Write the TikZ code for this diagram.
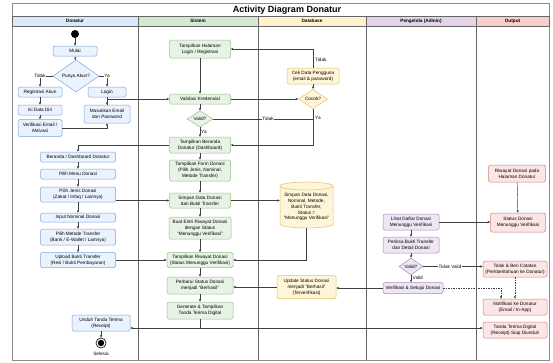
\documentclass[tikz,border=0pt]{standalone}
\usepackage{fontspec}
\setmainfont{Liberation Sans}
\usetikzlibrary{shapes.geometric,arrows.meta}
\definecolor{donhead}{HTML}{DAE8FC}
\definecolor{donfill}{HTML}{EAF2FD}
\definecolor{donline}{HTML}{7EA6E0}
\definecolor{sishead}{HTML}{D5E8D4}
\definecolor{sisfill}{HTML}{E7F3E5}
\definecolor{sisline}{HTML}{97C085}
\definecolor{dbhead}{HTML}{FFF2CC}
\definecolor{dbfill}{HTML}{FFF5D9}
\definecolor{dbline}{HTML}{E0C267}
\definecolor{admhead}{HTML}{E1D5E7}
\definecolor{admfill}{HTML}{EEE6F2}
\definecolor{admline}{HTML}{A68BB8}
\definecolor{outhead}{HTML}{F8CECC}
\definecolor{outfill}{HTML}{FCE6E5}
\definecolor{outline}{HTML}{D08080}
\newcommand{\dfont}{\fontsize{4.7}{5.8}\selectfont}

\begin{document}
\begin{tikzpicture}[x=1pt,y=-1pt,
  box/.style={rounded corners=1.5pt,align=center,font=\dfont,inner sep=0pt,line width=0.5pt},
  sz/.style 2 args={minimum width=#1pt,minimum height=#2pt},
  don/.style={box,draw=donline,fill=donfill},
  sis/.style={box,draw=sisline,fill=sisfill},
  dbs/.style={box,draw=dbline,fill=dbfill},
  adm/.style={box,draw=admline,fill=admfill},
  outp/.style={box,draw=outline,fill=outfill},
  dec/.style={diamond,align=center,font=\dfont,inner sep=0pt,line width=0.5pt},
  arr/.style={-{Stealth[length=2.8pt,width=2.4pt]},line width=0.45pt,draw=black!75},
  lbl/.style={font=\dfont,fill=white,inner sep=0.6pt},
  lane/.style={font=\dfont\bfseries}]
\fill[white] (0,0) rectangle (553,362);
\useasboundingbox (0,0) rectangle (553,362);
\draw[black!45,line width=0.8pt] (12,3) rectangle (549,360);
\node[font=\fontsize{9}{11}\selectfont\bfseries] (title) at (287,10) {Activity Diagram Donatur};
\filldraw[fill=donhead,draw=black!60,line width=0.5pt] (12,16) rectangle (138,26);
\filldraw[fill=sishead,draw=black!60,line width=0.5pt] (138,16) rectangle (258,26);
\filldraw[fill=dbhead,draw=black!60,line width=0.5pt] (258,16) rectangle (366,26);
\filldraw[fill=admhead,draw=black!60,line width=0.5pt] (366,16) rectangle (476,26);
\filldraw[fill=outhead,draw=black!60,line width=0.5pt] (476,16) rectangle (549,26);
\node[lane] (hdon) at (75,21) {Donatur};
\node[lane] (hsis) at (198,21) {Sistem};
\node[lane] (hdb) at (312,21) {Database};
\node[lane] (hadm) at (421,21) {Pengelola (Admin)};
\node[lane] (hout) at (512.5,21) {Output};
\draw[black!60,line width=0.6pt] (138,26) -- (138,360);
\draw[black!60,line width=0.6pt] (258,26) -- (258,360);
\draw[black!60,line width=0.6pt] (366,26) -- (366,360);
\draw[black!60,line width=0.6pt] (476,26) -- (476,360);

\node[circle,fill=black,minimum size=8pt,inner sep=0pt] (start) at (75,34) {};
\node[don,sz={44}{10}] (mulai) at (75,51) {Mulai};
\node[dec,draw=donline,fill=donfill,minimum width=46pt,minimum height=22pt] (punya) at (76,76) {Punya Akun?};
\node[don,sz={44}{10}] (registrasi) at (40,92) {Registrasi Akun};
\node[don,sz={38}{10}] (login) at (107,92) {Login};
\node[don,sz={44}{10}] (isidata) at (40,110) {Isi Data Diri};
\node[don,sz={46}{18}] (masukkan) at (107,114) {Masukkan Email\\dan Password};
\node[don,sz={44}{17}] (verifemail) at (40,128) {Verifikasi Email /\\Aktivasi};
\node[don,sz={75}{10}] (berandadon) at (78,157) {Beranda / Dashboard Donatur};
\node[don,sz={75}{10}] (pilihmenu) at (78,174) {Pilih Menu Donasi};
\node[don,sz={75}{15}] (pilihjenis) at (78,194.5) {Pilih Jenis Donasi\\(Zakat / Infaq / Lainnya)};
\node[don,sz={75}{9}] (inputnom) at (78,217.5) {Input Nominal Donasi};
\node[don,sz={75}{16}] (pilihmetode) at (78,237) {Pilih Metode Transfer\\(Bank / E-Wallet / Lainnya)};
\node[don,sz={75}{15}] (upload) at (78,260) {Upload Bukti Transfer\\(Resi / Bukti Pembayaran)};
\node[don,sz={58}{16}] (unduh) at (101,323) {Unduh Tanda Terima\\(Receipt)};
\node[circle,draw,line width=0.6pt,minimum size=10pt,inner sep=0pt] (ende) at (101,343) {};
\fill (ende) circle (3.2pt);
\node[font=\dfont] (selesai) at (101,354) {Selesai};

\node[sis,sz={61}{18}] (tampillogin) at (200,49) {Tampilkan Halaman\\Login / Registrasi};
\node[sis,sz={61}{10}] (validasi) at (200,99) {Validasi Kredensial};
\node[dec,draw=sisline,fill=sisfill,minimum width=26pt,minimum height=14pt] (valid) at (200,119) {Valid?};
\node[sis,sz={61}{16}] (berandasis) at (200,145) {Tampilkan Beranda\\Donatur (Dashboard)};
\node[sis,sz={61}{21}] (form) at (200,170.5) {Tampilkan Form Donasi\\(Pilih Jenis, Nominal,\\Metode Transfer)};
\node[sis,sz={61}{15}] (simpan) at (200,200.5) {Simpan Data Donasi\\dan Bukti Transfer};
\node[sis,sz={62}{22}] (entri) at (200,228) {Buat Entri Riwayat Donasi\\dengan Status\\"Menunggu Verifikasi"};
\node[sis,sz={66}{15}] (riwayat) at (200,260) {Tampilkan Riwayat Donasi\\(Status Menunggu Verifikasi)};
\node[sis,sz={66}{17}] (perbarui) at (200,285.5) {Perbarui Status Donasi\\menjadi "Berhasil"};
\node[sis,sz={66}{17}] (generate) at (200,310.5) {Generate \& Tampilkan\\Tanda Terima Digital};

\node[dbs,sz={52}{16}] (cek) at (313,76) {Cek Data Pengguna\\(email \& password)};
\node[dec,draw=dbline,fill=dbfill,minimum width=29pt,minimum height=17pt] (cocok) at (313,99) {Cocok?};
\filldraw[fill=dbfill,draw=dbline,line width=0.5pt] (280,186) -- (280,224) arc[start angle=180,end angle=360,x radius=26.5pt,y radius=4pt] -- (333,186) arc[start angle=0,end angle=180,x radius=26.5pt,y radius=4pt] -- cycle;
\draw[dbline,line width=0.5pt] (280,186) arc[start angle=180,end angle=360,x radius=26.5pt,y radius=4pt];
\node[align=center,font=\dfont,inner sep=0pt,minimum width=53pt,minimum height=42pt] (db) at (306.5,207) {Simpan Data Donasi,\\Nominal, Metode,\\Bukti Transfer,\\Status =\\"Menunggu Verifikasi"};
\node[dbs,sz={59}{23}] (update) at (306.5,287) {Update Status Donasi\\menjadi "Berhasil"\\(Terverifikasi)};

\node[adm,sz={56}{16}] (lihat) at (411,222) {Lihat Daftar Donasi\\Menunggu Verifikasi};
\node[adm,sz={56}{16}] (periksa) at (411,245) {Periksa Bukti Transfer\\dan Detail Donasi};
\node[dec,draw=admline,fill=admfill,minimum width=24pt,minimum height=17pt] (validadm) at (411,266.5) {Valid?};
\node[adm,sz={60}{11}] (verif) at (413,288) {Verifikasi \& Setujui Donasi};

\node[outp,sz={57}{17}] (riwayatout) at (517,173.5) {Riwayat Donasi pada\\Halaman Donatur};
\node[outp,sz={55}{19}] (statusout) at (518,222.5) {Status Donasi\\Menunggu Verifikasi};
\node[outp,sz={64}{16}] (tolak) at (515,269) {Tolak \& Beri Catatan\\(Pemberitahuan ke Donatur)};
\node[outp,sz={64}{16}] (notif) at (515,307) {Notifikasi ke Donatur\\(Email / In-App)};
\node[outp,sz={64}{16}] (tanda) at (515,330) {Tanda Terima Digital\\(Receipt) Siap Diunduh};

\draw[arr] (start) -- (mulai);
\draw[arr] (mulai) -- (punya);
\draw[arr] (punya.west) -| node[lbl,pos=0.5] {Tidak} (registrasi.north);
\draw[arr] (punya.east) -| node[lbl,pos=0.5] {Ya} (login.north);
\draw[arr] (registrasi) -- (isidata);
\draw[arr] (isidata) -- (verifemail);
\draw[arr] (login) -- (masukkan);
\draw[arr] (verifemail.east) -| (masukkan.south);
\draw[arr] (masukkan.north) |- (validasi.west);
\draw[arr] (berandasis.west) -| (berandadon.north);
\draw[arr] (berandadon) -- (pilihmenu);
\draw[arr] (pilihmenu) -- (pilihjenis);
\draw[arr] (pilihjenis) -- (inputnom);
\draw[arr] (inputnom) -- (pilihmetode);
\draw[arr] (pilihmetode) -- (upload);
\draw[arr] (pilihjenis.east |- simpan.west) -- (simpan.west);
\draw[arr] (upload.east) -- (riwayat.west);
\draw[arr] (unduh) -- (ende);

\draw[arr] (tampillogin) -- (validasi);
\draw[arr] (validasi) -- (valid);
\draw[arr] (valid) -- node[pos=0.45,anchor=west,font=\dfont,inner sep=1pt] {Ya} (berandasis);
\draw[arr] (berandasis) -- (form);
\draw[arr] (form) -- (simpan);
\draw[arr] (simpan) -- (entri);
\draw[arr] (entri) -- (riwayat);
\draw[arr] (riwayat) -- (perbarui);
\draw[arr] (perbarui) -- (generate);
\draw[line width=0.45pt,draw=black!75] (valid.east) -- node[lbl,pos=0.55] {Tidak} (valid.east -| cocok.south);
\coordinate (split) at (200,328);
\draw[line width=0.45pt,draw=black!75] (generate.south) -- (split);
\draw[arr] (split) -- (split -| unduh.east);
\draw[arr] (split) -- (split -| tanda.west);

\draw[arr] (validasi.east) -- (cocok.west);
\draw[arr] (cek) -- (cocok);
\draw[arr] (cek.north) |- node[pos=0.2,anchor=west,font=\dfont,inner sep=2pt] {Tidak} (tampillogin.east);
\draw[arr] (cocok.south) |- node[pos=0.12,anchor=west,font=\dfont,inner sep=2pt] {Ya} (berandasis.east);
\draw[arr] (simpan.east) -- (simpan.east -| db.west);
\draw[arr] (db.south) |- (riwayat.east);
\draw[arr] (update.west) -- (update.west -| perbarui.east);
\draw[arr] (verif.west) -- (verif.west -| update.east);

\draw[arr] (lihat.east) -- (lihat.east -| statusout.west);
\draw[arr] (lihat) -- (periksa);
\draw[arr] (periksa) -- (validadm);
\draw[arr] (validadm.south) -- node[pos=0.4,anchor=west,font=\dfont,inner sep=1.5pt] {Valid} (validadm.south |- verif.north);
\draw[arr] (validadm.east) -- node[lbl,pos=0.45] {Tidak Valid} (validadm.east -| tolak.west);
\draw[arr,dash pattern=on 1.5pt off 1pt] (verif.east) -| ([xshift=-14pt]notif.north);
\draw[arr,dash pattern=on 1.5pt off 1pt] (tolak.south) -- (notif.north);
\draw[arr] (riwayatout) -- (statusout);
\end{tikzpicture}
\end{document}
